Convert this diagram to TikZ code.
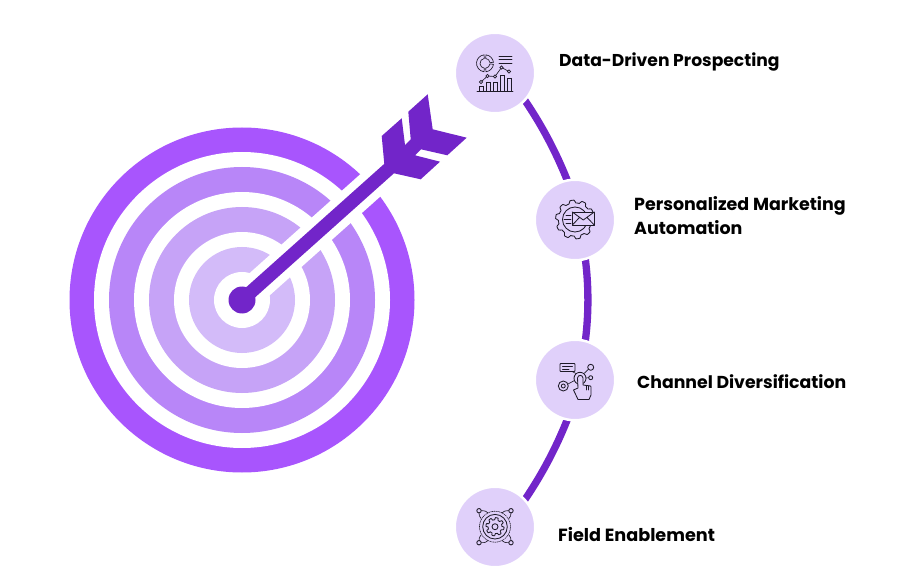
\documentclass[tikz,border=0pt]{standalone}
\usepackage{fontspec}
\usetikzlibrary{backgrounds}
\setmainfont{Poppins}
\definecolor{arrowc}{HTML}{7225C9}
\definecolor{ringa}{HTML}{A855FD}
\definecolor{ringb}{HTML}{B886F8}
\definecolor{ringc}{HTML}{C6A3F7}
\definecolor{ringd}{HTML}{D3BBF9}
\definecolor{bubble}{HTML}{E0D0FA}
\definecolor{ink}{HTML}{1E1A28}
\tikzset{
  disc/.style={circle,inner sep=0pt,outer sep=0pt,minimum size=#1},
  bubblenode/.style={circle,fill=bubble,draw=white,line width=2.5pt,inner sep=0pt,outer sep=0pt,minimum size=80.5pt},
  link/.style={draw=arrowc,line width=7.3pt,looseness=0.875},
  txtlabel/.style={anchor=west,inner sep=0pt,text height=12pt,text depth=3.5pt,font=\fontsize{#1}{24}\selectfont\bfseries,text=black},
  icon/.style={draw=ink,line width=0.85pt,line cap=round,line join=round},
  iconthin/.style={draw=ink,line width=0.65pt,line cap=round}
}
\newcommand{\gearpath}[5]{% cx cy radius amp teeth
  plot[domain=0:360,samples=121] ({#1+(#3+#4*max(min(3*sin(#5*\x),1),-1))*cos(\x)},{#2+(#3+#4*max(min(3*sin(#5*\x),1),-1))*sin(\x)}) -- cycle}
\begin{document}
\begin{tikzpicture}[x=1pt,y=-1pt]
\useasboundingbox (0,0) rectangle (900,588);
% target
\node[disc=345pt,fill=ringa] (r1) at (242,300) {};
\node[disc=296pt,fill=white] (w1) at (r1.center) {};
\node[disc=266pt,fill=ringb] (r2) at (r1.center) {};
\node[disc=216pt,fill=white] (w2) at (r1.center) {};
\node[disc=186pt,fill=ringc] (r3) at (r1.center) {};
\node[disc=136pt,fill=white] (w3) at (r1.center) {};
\node[disc=106pt,fill=ringd] (r4) at (r1.center) {};
\node[disc=56pt,fill=white] (w4) at (r1.center) {};
\coordinate (bandend) at (392,166);
\draw[white,line width=30pt] (r1.center) -- (bandend);
% arrow
\node[disc=27pt,fill=arrowc] (hub) at (r1.center) {};
\coordinate (tail) at (392,166);
\draw[arrowc,line width=13.5pt] (hub.center) -- (tail);
\fill[arrowc] (381.7,136) -- (401.7,118.3) -- (405,145) -- (410.7,139.3) -- (408.3,111.7) -- (427.7,94.3) -- (432.7,129.3) -- (466.7,137.7) -- (447.3,155.3) -- (421,149.3) -- (415,155.3) -- (440,161.7) -- (420.7,179.3) -- (394,173.3) -- (384.3,164) -- cycle;
% bubbles
\node[bubblenode] (n1) at (495,73) {};
\node[bubblenode] (n2) at (575,220) {};
\node[bubblenode] (n3) at (575,380) {};
\node[bubblenode] (n4) at (495,527) {};
\begin{scope}[on background layer]
\draw[link] ([shift={(19,12)}]n1.center) to[bend left=8] ([shift={(-4,-30)}]n2.center);
\draw[link] ([xshift=3pt]n2.center) to[bend left=14] ([xshift=3pt]n3.center);
\draw[link] ([shift={(-4,30)}]n3.center) to[bend left=8] ([shift={(19,-12)}]n4.center);
\end{scope}
% labels
\node[txtlabel=17.15] (t1) at (559,62) {Data-Driven Prospecting};
\node[txtlabel=17.45] (t2a) at (634,206) {Personalized Marketing};
\node[txtlabel=17.45] (t2b) at (634,230) {Automation};
\node[txtlabel=17.3] (t3) at (637,384) {Channel Diversification};
\node[txtlabel=17.65] (t4) at (558,537) {Field Enablement};
% icon 1
\foreach \aa/\ab in {97/263,277/353,7/83}{
  \draw[iconthin] ([shift={(485,63.3)}]\aa:8.5) arc[start angle=\aa,end angle=\ab,radius=8.5] -- ([shift={(485,63.3)}]\ab:5) arc[start angle=\ab,end angle=\aa,radius=5] -- cycle;
}
\draw[iconthin] (499,56) -- (512,56) (499,59.5) -- (512,59.5) (499,63) -- (512,63);
\draw[icon] (477,91) -- (513,91);
\draw[iconthin] (479.5,91) -- (479.5,86) -- (483.5,86) -- (483.5,91)
  (486,91) -- (486,82) -- (490,82) -- (490,91)
  (493,91) -- (493,82) -- (497,82) -- (497,91)
  (500,91) -- (500,75) -- (504,75) -- (504,91)
  (507,91) -- (507,78) -- (511,78) -- (511,91);
\draw[iconthin] (481,82) -- (487.5,76) -- (495,76.5) -- (501.5,67.5) -- (509,71.5);
\foreach \px/\py in {481/82,487.5/76,495/76.5,501.5/67.5,509/71.5}
  \draw[iconthin,fill=bubble] (\px,\py) circle (1.6);
% icon 2
\draw[icon] \gearpath{575}{219.5}{18}{1.4}{10};
\draw[icon] (575,219.5) circle (12.5);
\draw[icon,fill=bubble] (572.3,212) rectangle (594.3,225);
\draw[icon] (572.3,212) -- (583.3,220) -- (594.3,212) (572.3,225) -- (579.5,217.5) (594.3,225) -- (587,217.5);
\draw[iconthin] (566,215) -- (571,215) (564,219.5) -- (571,219.5) (566,223.5) -- (571,223.5);
% icon 3
\draw[icon,rounded corners=0.8pt] (560,363.5) rectangle (575,371.5);
\draw[iconthin] (562.5,366) -- (572.5,366) (562.5,369) -- (569,369);
\draw[icon] (590.7,367.3) circle (3);
\draw[icon] (590.7,377.7) circle (2);
\draw[icon] (563.3,386) circle (5) (563.3,386) circle (2);
\draw[icon] (580,378.3) circle (6);
\draw[iconthin] (568,384) -- (574.5,380.5) (584,373.5) -- (588.2,369.5) (586,378) -- (588.7,377.7) (572,371.5) -- (576,373.5);
\draw[icon,fill=bubble] (578,399.5) -- (573.5,390) -- (578,388) -- (577.5,378) .. controls (578,374.5) and (582.5,374.5) .. (583,378) -- (583,385) -- (590.5,386) .. controls (591,386) and (591,387) .. (591,390) -- (591,395) -- (589,399.5) -- cycle;
\draw[iconthin] (586,385.5) -- (586,390) (588.5,386) -- (588.5,390);
% icon 4
\draw[icon] \gearpath{495}{526.7}{8}{1.1}{8};
\draw[icon] (495,526.7) circle (3);
\draw[icon] (495,526.7) circle (12.3);
\draw[iconthin,dash pattern=on 0.8pt off 1pt] (495,526.7) circle (15.5);
\foreach \sx/\sy in {-16/-16,16/-16,-16/16,16/16}{
  \draw[icon] (495+\sx,526.7+\sy) circle (2.2);
}
\draw[iconthin] (481.5,510.7) .. controls (485,510.7) and (487,511.5) .. (488,513)
  (508.5,510.7) .. controls (505,510.7) and (503,511.5) .. (502,513)
  (481.5,542.7) .. controls (485,542.7) and (487,542) .. (488,540.5)
  (508.5,542.7) .. controls (505,542.7) and (503,542) .. (502,540.5)
  (479,513) .. controls (479,515) and (479.5,517) .. (481,518.5)
  (511,513) .. controls (511,515) and (510.5,517) .. (509,518.5)
  (479,540.5) .. controls (479,538.5) and (479.5,536.5) .. (481,535)
  (511,540.5) .. controls (511,538.5) and (510.5,536.5) .. (509,535);
\end{tikzpicture}
\end{document}
